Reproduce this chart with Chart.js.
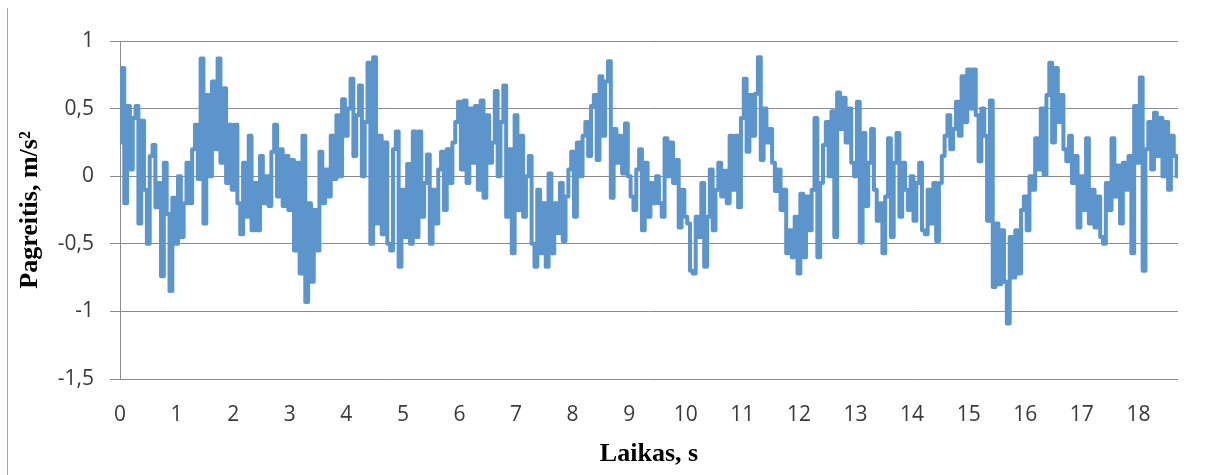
<!DOCTYPE html>
<html>
<head>
<meta charset="utf-8">
<script src="https://cdn.jsdelivr.net/npm/chart.js@4.4.1/dist/chart.umd.min.js"></script>
<style>
  html, body { margin: 0; padding: 0; background: #fff; }
  .wrap { position: relative; width: 1206px; height: 475px; }
  .frame { position: absolute; left: 7px; top: 8px; bottom: 0; border-left: 1px solid #a8a8a8; }
  canvas { display: block; }
</style>
</head>
<body>
<div class="wrap">
  <div class="frame"></div>
  <canvas id="myChart" width="1206" height="475"></canvas>
</div>
<script>
// sampling step of the record, s
const dt = 0.05;

// acceleration, one row per second
const pagreitis = [
  0.25, 0.8, -0.2, 0.52, 0.05, 0.43, 0.52, -0.35, 0.41, -0.1, -0.5, 0.15, 0.23, -0.23, -0.05, -0.74, 0.1, -0.28, -0.85, -0.16,
  -0.5, 0.0, -0.45, -0.2, 0.1, -0.2, 0.2, 0.38, -0.02, 0.87, -0.35, 0.6, 0.0, 0.7, 0.2, 0.87, 0.1, 0.65, -0.05, 0.38,
  -0.1, 0.38, -0.2, -0.43, 0.1, -0.3, 0.3, -0.4, -0.05, -0.4, 0.15, -0.2, 0.0, -0.22, 0.18, 0.38, -0.15, 0.2, -0.22, 0.15,
  -0.25, 0.12, -0.55, 0.1, -0.72, 0.3, -0.93, -0.2, -0.78, -0.25, -0.55, 0.18, -0.2, 0.05, -0.15, 0.3, -0.02, 0.45, 0.0, 0.57,
  0.3, 0.5, 0.72, 0.15, 0.45, 0.67, 0.0, 0.4, 0.84, -0.5, 0.88, -0.35, 0.3, -0.43, 0.25, -0.5, -0.55, 0.2, 0.33, -0.67,
  -0.1, -0.45, 0.09, -0.5, 0.33, -0.45, 0.33, -0.3, -0.05, 0.16, -0.5, -0.1, -0.35, 0.05, 0.18, -0.25, 0.2, -0.05, 0.25, 0.4,
  0.55, 0.05, 0.56, -0.05, 0.5, 0.1, 0.52, -0.1, 0.56, -0.16, 0.45, 0.1, 0.25, 0.63, 0.0, 0.4, 0.67, -0.3, 0.2, -0.57,
  0.45, -0.25, 0.3, -0.3, 0.0, 0.15, -0.5, -0.67, -0.1, -0.57, -0.2, -0.67, 0.02, -0.57, -0.2, -0.42, -0.05, -0.48, -0.15, 0.05,
  0.18, -0.3, 0.25, 0.0, 0.3, 0.4, 0.15, 0.52, 0.6, 0.12, 0.74, 0.3, 0.7, 0.85, -0.16, 0.35, 0.1, 0.3, 0.02, 0.39,
  0.0, -0.15, -0.25, 0.05, 0.2, -0.4, 0.1, -0.3, -0.05, -0.2, 0.0, -0.2, -0.3, 0.28, 0.0, 0.25, -0.05, 0.12, -0.38, -0.1,
  -0.3, -0.35, -0.7, -0.72, -0.3, -0.45, -0.05, -0.67, -0.3, 0.05, -0.4, -0.1, 0.1, -0.15, 0.04, -0.2, 0.3, -0.1, 0.3, -0.23,
  0.43, 0.72, 0.18, 0.6, 0.3, 0.61, 0.88, 0.12, 0.5, 0.25, 0.35, 0.1, -0.11, 0.05, -0.25, -0.1, -0.57, -0.4, -0.6, -0.3,
  -0.72, -0.13, -0.6, -0.15, -0.4, -0.1, 0.43, -0.6, -0.05, 0.23, 0.4, 0.0, 0.48, -0.45, 0.62, 0.35, 0.58, 0.25, 0.5, 0.1,
  0.0, 0.55, -0.49, 0.32, -0.22, 0.1, 0.35, -0.1, -0.33, -0.2, -0.57, -0.15, 0.28, -0.45, 0.1, 0.32, -0.3, 0.1, -0.1, -0.25,
  0.0, -0.33, -0.05, 0.1, -0.4, -0.43, -0.1, -0.35, -0.05, -0.48, -0.05, 0.15, 0.3, 0.45, 0.2, 0.35, 0.55, 0.3, 0.74, 0.4,
  0.79, 0.5, 0.79, 0.45, 0.11, 0.5, 0.3, -0.33, 0.56, -0.82, -0.35, -0.8, -0.4, -0.78, -1.09, -0.45, -0.75, -0.4, -0.72, -0.25,
  -0.15, -0.4, 0.0, -0.1, 0.28, 0.05, 0.5, 0.01, 0.6, 0.84, 0.25, 0.8, 0.4, 0.6, 0.2, 0.11, 0.3, -0.05, 0.15, -0.38,
  0.0, -0.25, 0.28, -0.35, -0.1, -0.38, -0.15, -0.45, -0.5, -0.05, -0.25, 0.28, -0.15, 0.08, -0.35, 0.1, -0.1, 0.15, -0.57, 0.52,
  0.1, 0.73, -0.7, 0.2, 0.4, 0.05, 0.47, 0.15, 0.43, 0.0, 0.4, -0.1, 0.3, 0.15, 0.0
];

const xMax = 18.7;
const yMin = -1.5;
const yMax = 1;
const yStep = 0.5;

const gridColor = "#8c8c8c";
const tickColor = "#3a3a3a";

const points = pagreitis.map((v, i) => ({ x: +(i * dt).toFixed(2), y: v }));

const ctx = document.getElementById("myChart");
new Chart(ctx, {
  type: "line",
  data: {
    datasets: [
      {
        label: "Pagreitis",
        data: points,
        borderColor: "#5b95cc",
        backgroundColor: "transparent",
        borderWidth: 4,
        borderJoinStyle: "round",
        borderCapStyle: "round",
        pointRadius: 0,
        stepped: "middle",
      },
    ],
  },
  options: {
    responsive: false,
    animation: false,
    layout: {
      padding: { top: 41, right: 28, left: 0, bottom: 0 },
    },
    plugins: {
      legend: { display: false },
      tooltip: { enabled: false },
    },
    scales: {
      x: {
        type: "linear",
        min: 0,
        max: xMax,
        afterFit: (s) => { s.height = 96; },
        grid: { display: false, drawTicks: false },
        border: { display: false },
        ticks: {
          stepSize: 1,
          includeBounds: false,
          padding: 23,
          color: tickColor,
          font: { family: "Open Sans", size: 21 },
        },
        title: {
          display: true,
          text: "Laikas, s",
          color: "#000",
          padding: { top: 0, bottom: 5 },
          font: { family: "Liberation Serif", size: 26, weight: "bold" },
        },
      },
      y: {
        min: yMin,
        max: yMax,
        afterFit: (s) => { s.width = 120; },
        grid: { color: gridColor, tickLength: 10 },
        border: { color: gridColor },
        ticks: {
          stepSize: yStep,
          padding: 16,
          color: tickColor,
          font: { family: "Open Sans", size: 21 },
          callback: (v) => String(v).replace(".", ","),
        },
        title: {
          display: true,
          text: "Pagreitis, m/s²",
          color: "#000",
          padding: { top: 15, bottom: 0 },
          font: { family: "Liberation Serif", size: 26, weight: "bold" },
        },
      },
    },
  },
});
</script>
</body>
</html>
